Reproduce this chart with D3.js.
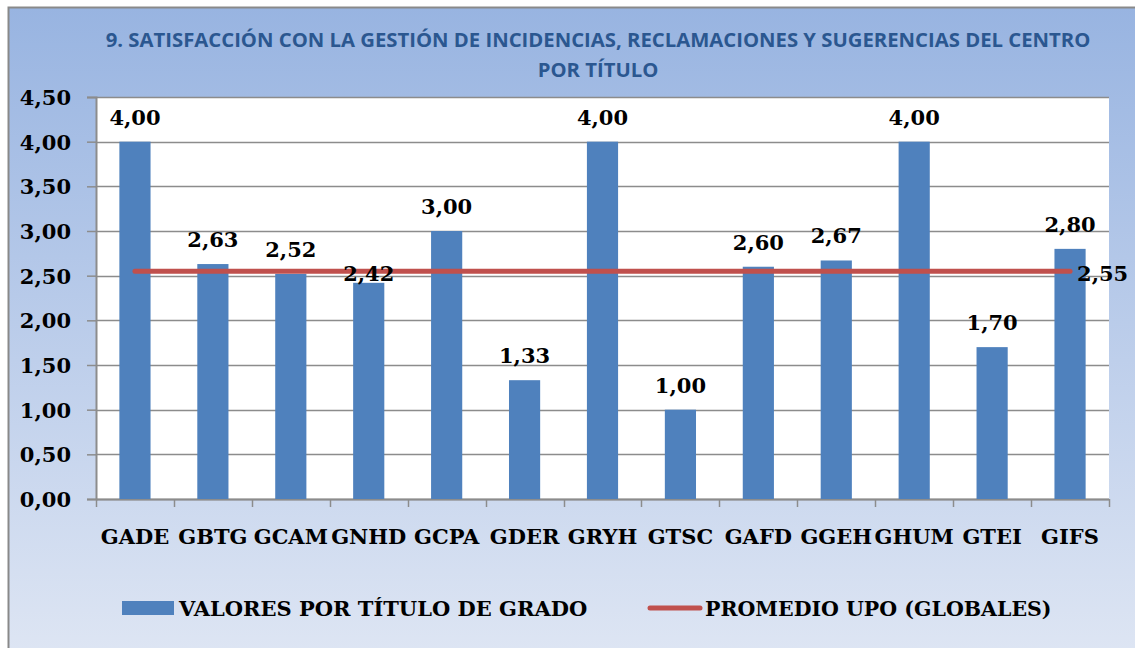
<!DOCTYPE html>
<html lang="es">
<head>
<meta charset="UTF-8">
<title>Satisfacción con la gestión de incidencias</title>
<script src="https://d3js.org/d3.v7.min.js"></script>
<style>
  body { margin: 0; overflow: hidden; background: #fff; }
  svg { display: block; }
  .num { font-family: "DejaVu Serif", "Liberation Serif", serif; font-weight: bold; fill: #000; }
  .title { font-family: "Open Sans", "Liberation Sans", sans-serif; font-weight: bold; fill: #2b5790; }
</style>
</head>
<body>
<svg id="chart"></svg>
<script>
// data
const categories = ["GADE", "GBTG", "GCAM", "GNHD", "GCPA", "GDER", "GRYH", "GTSC", "GAFD", "GGEH", "GHUM", "GTEI", "GIFS"];
const values = [4.00, 2.63, 2.52, 2.42, 3.00, 1.33, 4.00, 1.00, 2.60, 2.67, 4.00, 1.70, 2.80];
const average = 2.55;
const yTicks = [0, 0.5, 1, 1.5, 2, 2.5, 3, 3.5, 4, 4.5];
const titleLines = ["9. SATISFACCIÓN CON LA GESTIÓN DE INCIDENCIAS, RECLAMACIONES Y SUGERENCIAS DEL CENTRO", "POR TÍTULO"];
const legendItems = ["VALORES POR TÍTULO DE GRADO", "PROMEDIO UPO (GLOBALES)"];

const width = 1135, height = 648;
const plot = { left: 96, right: 1109, top: 97, bottom: 499 };
const barColor = "#4f81bd", lineColor = "#c0504d";

const es = d3.formatLocale({ decimal: ",", thousands: ".", grouping: [3], currency: ["", "€"] });
const fmt = es.format(".2f");

const svg = d3.select("#chart").attr("width", width).attr("height", height);

// background gradient
const defs = svg.append("defs");
const grad = defs.append("linearGradient").attr("id", "bg")
    .attr("x1", 0).attr("y1", 0).attr("x2", 0).attr("y2", 1);
grad.append("stop").attr("offset", "0%").attr("stop-color", "#98b4e1");
grad.append("stop").attr("offset", "100%").attr("stop-color", "#e0e7f4");

svg.append("rect")
    .attr("x", 8.5).attr("y", 7.5)
    .attr("width", width + 20).attr("height", height + 20)
    .attr("fill", "url(#bg)")
    .attr("stroke", "#898989").attr("stroke-width", 2);

// title
svg.append("g").selectAll("text")
    .data(titleLines)
    .join("text")
    .attr("class", "title")
    .attr("x", 598)
    .attr("y", (d, i) => 47 + i * 30)
    .attr("text-anchor", "middle")
    .attr("font-size", 20.3)
    .text(d => d);

// scales
const x = d3.scaleBand()
    .domain(categories)
    .range([plot.left, plot.right])
    .paddingInner(0.6)
    .paddingOuter(0.3);

const y = d3.scaleLinear()
    .domain([0, 4.5])
    .range([plot.bottom, plot.top]);

// plot area
svg.append("rect")
    .attr("x", plot.left).attr("y", plot.top)
    .attr("width", plot.right - plot.left).attr("height", plot.bottom - plot.top)
    .attr("fill", "#fff");

// gridlines
svg.append("g").selectAll("line")
    .data(yTicks)
    .join("line")
    .attr("x1", plot.left).attr("x2", plot.right)
    .attr("y1", d => Math.round(y(d)) + 0.5).attr("y2", d => Math.round(y(d)) + 0.5)
    .attr("stroke", "#8c8c8c").attr("stroke-width", 1.5);

// y axis
const yAxis = svg.append("g")
    .attr("transform", `translate(${plot.left},0)`)
    .call(d3.axisLeft(y).tickValues(yTicks).tickFormat(fmt).tickSize(9).tickPadding(16));
yAxis.select(".domain").attr("stroke", "#8c8c8c").attr("stroke-width", 2);
yAxis.selectAll(".tick line").attr("stroke", "#8c8c8c").attr("stroke-width", 1.5);
yAxis.selectAll(".tick text").attr("class", "num").attr("font-size", 21).attr("dy", "0.35em");

// x axis line and tick marks at category boundaries
const step = x.step();
const x0 = plot.left;
const bounds = d3.range(categories.length + 1).map(i => x0 + i * step);
svg.append("line")
    .attr("x1", plot.left).attr("x2", plot.right)
    .attr("y1", plot.bottom + 0.5).attr("y2", plot.bottom + 0.5)
    .attr("stroke", "#8c8c8c").attr("stroke-width", 2);
svg.append("g").selectAll("line")
    .data(bounds)
    .join("line")
    .attr("x1", d => Math.round(d) + 0.5).attr("x2", d => Math.round(d) + 0.5)
    .attr("y1", plot.bottom).attr("y2", plot.bottom + 8)
    .attr("stroke", "#8c8c8c").attr("stroke-width", 1.5);

// category labels
svg.append("g").selectAll("text")
    .data(categories)
    .join("text")
    .attr("class", "num")
    .attr("x", d => x(d) + x.bandwidth() / 2)
    .attr("y", 544)
    .attr("text-anchor", "middle")
    .attr("font-size", 21)
    .text(d => d);

// bars
svg.append("g").selectAll("rect")
    .data(values)
    .join("rect")
    .attr("x", (d, i) => x(categories[i]))
    .attr("y", d => y(d))
    .attr("width", x.bandwidth())
    .attr("height", d => y(0) - y(d))
    .attr("fill", barColor);

// average line
const cx = c => x(c) + x.bandwidth() / 2;
svg.append("line")
    .attr("x1", cx(categories[0])).attr("x2", cx(categories[categories.length - 1]))
    .attr("y1", y(average)).attr("y2", y(average))
    .attr("stroke", lineColor).attr("stroke-width", 5).attr("stroke-linecap", "round");

// bar value labels (GNHD label sits lower in the original)
svg.append("g").selectAll("text")
    .data(values)
    .join("text")
    .attr("class", "num")
    .attr("x", (d, i) => cx(categories[i]))
    .attr("y", (d, i) => y(d) - (categories[i] === "GNHD" ? 2 : 17))
    .attr("text-anchor", "middle")
    .attr("font-size", 21)
    .text(d => fmt(d));

// average label
svg.append("text")
    .attr("class", "num")
    .attr("x", cx(categories[categories.length - 1]) + 7)
    .attr("y", y(average) + 10)
    .attr("font-size", 21)
    .text(fmt(average));

// legend
const legend = svg.append("g");
legend.append("rect")
    .attr("x", 122).attr("y", 601).attr("width", 52).attr("height", 14)
    .attr("fill", barColor);
legend.append("text")
    .attr("class", "num")
    .attr("x", 179).attr("y", 616)
    .attr("font-size", 21)
    .text(legendItems[0]);
legend.append("line")
    .attr("x1", 650).attr("x2", 700).attr("y1", 608).attr("y2", 608)
    .attr("stroke", lineColor).attr("stroke-width", 5).attr("stroke-linecap", "round");
legend.append("text")
    .attr("class", "num")
    .attr("x", 705).attr("y", 616)
    .attr("font-size", 20.5)
    .text(legendItems[1]);
</script>
</body>
</html>
